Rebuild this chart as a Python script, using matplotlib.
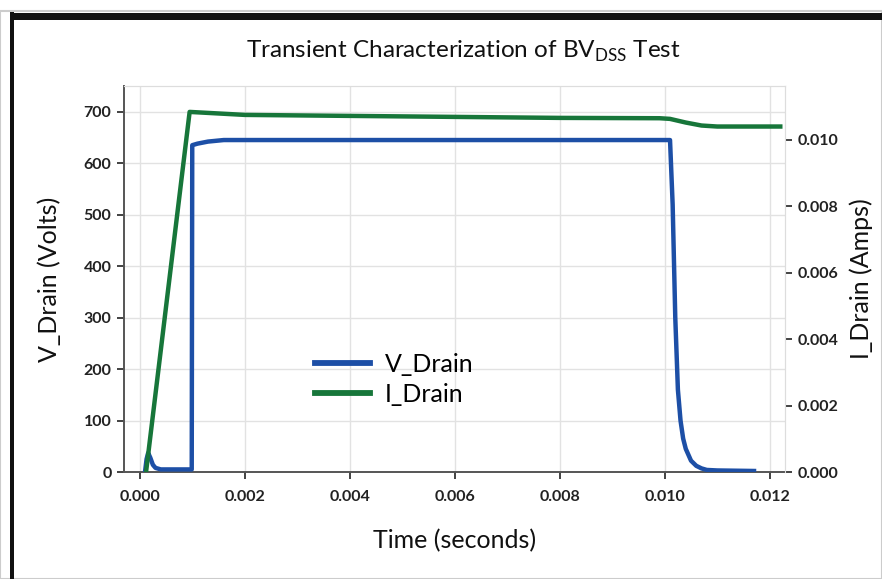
import matplotlib.pyplot as plt
from matplotlib.patches import Rectangle
from matplotlib.lines import Line2D

plt.rcParams['font.family'] = ['Lato', 'DejaVu Sans']

# drain voltage trace (seconds, volts)
t_v = [0.0001, 0.00013, 0.00016, 0.0002, 0.00025, 0.0003, 0.0004, 0.0006, 0.0008,
       0.00099, 0.001, 0.0011, 0.0013, 0.0016, 0.003, 0.006, 0.009, 0.0101,
       0.01015, 0.0102, 0.01025, 0.0103, 0.01035, 0.0104, 0.0105, 0.0106,
       0.0107, 0.0108, 0.011, 0.0117]
v_drain = [0, 25, 37, 28, 14, 8, 5, 5, 5,
           5, 635, 638, 642, 645, 645, 645, 645, 645,
           520, 300, 160, 100, 65, 45, 22, 12,
           7, 4, 3, 2]

# drain current trace (seconds, amps)
t_i = [0.00012, 0.00095, 0.002, 0.004, 0.006, 0.008, 0.0099, 0.0101,
       0.0104, 0.0107, 0.011, 0.0122]
i_drain = [0.0, 0.01084, 0.01075, 0.01072, 0.01069, 0.01066, 0.01065, 0.01063,
           0.01052, 0.01043, 0.01040, 0.01040]

x_ticks = [0.000, 0.002, 0.004, 0.006, 0.008, 0.010, 0.012]
v_ticks = [0, 100, 200, 300, 400, 500, 600, 700]
i_ticks = [0.000, 0.002, 0.004, 0.006, 0.008, 0.010]

blue = '#1d4fa6'
green = '#17763a'
tick_col = '#222222'

fig = plt.figure(figsize=(8.82, 5.79), dpi=100)
ax = fig.add_axes([124 / 882, 1 - 472 / 579, (785 - 124) / 882, (472 - 86) / 579])
ax2 = ax.twinx()

ax.plot(t_v, v_drain, color=blue, lw=3.2, solid_joinstyle='round', zorder=3)
ax2.plot(t_i, i_drain, color=green, lw=3.2, solid_joinstyle='round', zorder=3)

ax.set_xlim(-0.0003, 0.01229)
ax.set_ylim(0, 750)
ax2.set_ylim(0, 0.01162)

ax.set_xticks(x_ticks)
ax.set_xticklabels([f'{x:.3f}' for x in x_ticks])
ax.set_yticks(v_ticks)
ax2.set_yticks(i_ticks)
ax2.set_yticklabels([f'{x:.3f}' for x in i_ticks])

ax.grid(True, color='#e2e2e2', lw=1.0)
ax.set_axisbelow(True)

for a in (ax, ax2):
    a.tick_params(colors=tick_col, labelsize=11.5, length=5, width=1.2, pad=4)
    for lab in a.get_xticklabels() + a.get_yticklabels():
        lab.set_fontweight('bold')
    for s in a.spines.values():
        s.set_color('#dddddd')
ax.tick_params(axis='x', pad=8)
ax.spines['left'].set_color('#555555')
ax.spines['left'].set_linewidth(1.4)
ax.spines['bottom'].set_color('#555555')
ax.spines['bottom'].set_linewidth(1.4)
ax2.spines['left'].set_visible(False)
ax2.spines['bottom'].set_visible(False)

ax.set_ylabel('V_Drain (Volts)', fontsize=18, color='#111111', labelpad=16)
ax2.set_ylabel('I_Drain (Amps)', fontsize=18, color='#111111', labelpad=8)
ax.set_xlabel('Time (seconds)', fontsize=18, color='#111111', labelpad=18)

fig.text(0.525, 0.912, r'Transient Characterization of BV$_{\mathregular{DSS}}$ Test',
         ha='center', va='center', fontsize=17.5, color='#111111')

handles = [Line2D([], [], color=blue, lw=4.2), Line2D([], [], color=green, lw=4.2)]
ax2.legend(handles, ['V_Drain', 'I_Drain'], loc='center left',
           bbox_to_anchor=(0.255, 0.24), frameon=False, fontsize=18,
           handlelength=2.2, labelspacing=0.3, handletextpad=0.6)

# outer frame round the whole figure
fig.patches.append(Rectangle((0.0, 0.0), 1.0, 1 - 11 / 579, transform=fig.transFigure,
                             fill=False, edgecolor='#cccccc', lw=1.5))
fig.patches.append(Rectangle((10 / 882, 0.0), 4 / 882, 1 - 12 / 579, transform=fig.transFigure,
                             color='#111111', lw=0))
fig.patches.append(Rectangle((10 / 882, 1 - 20 / 579), 1.0, 7 / 579, transform=fig.transFigure,
                             color='#111111', lw=0))

fig.savefig('out.png', dpi=100)
